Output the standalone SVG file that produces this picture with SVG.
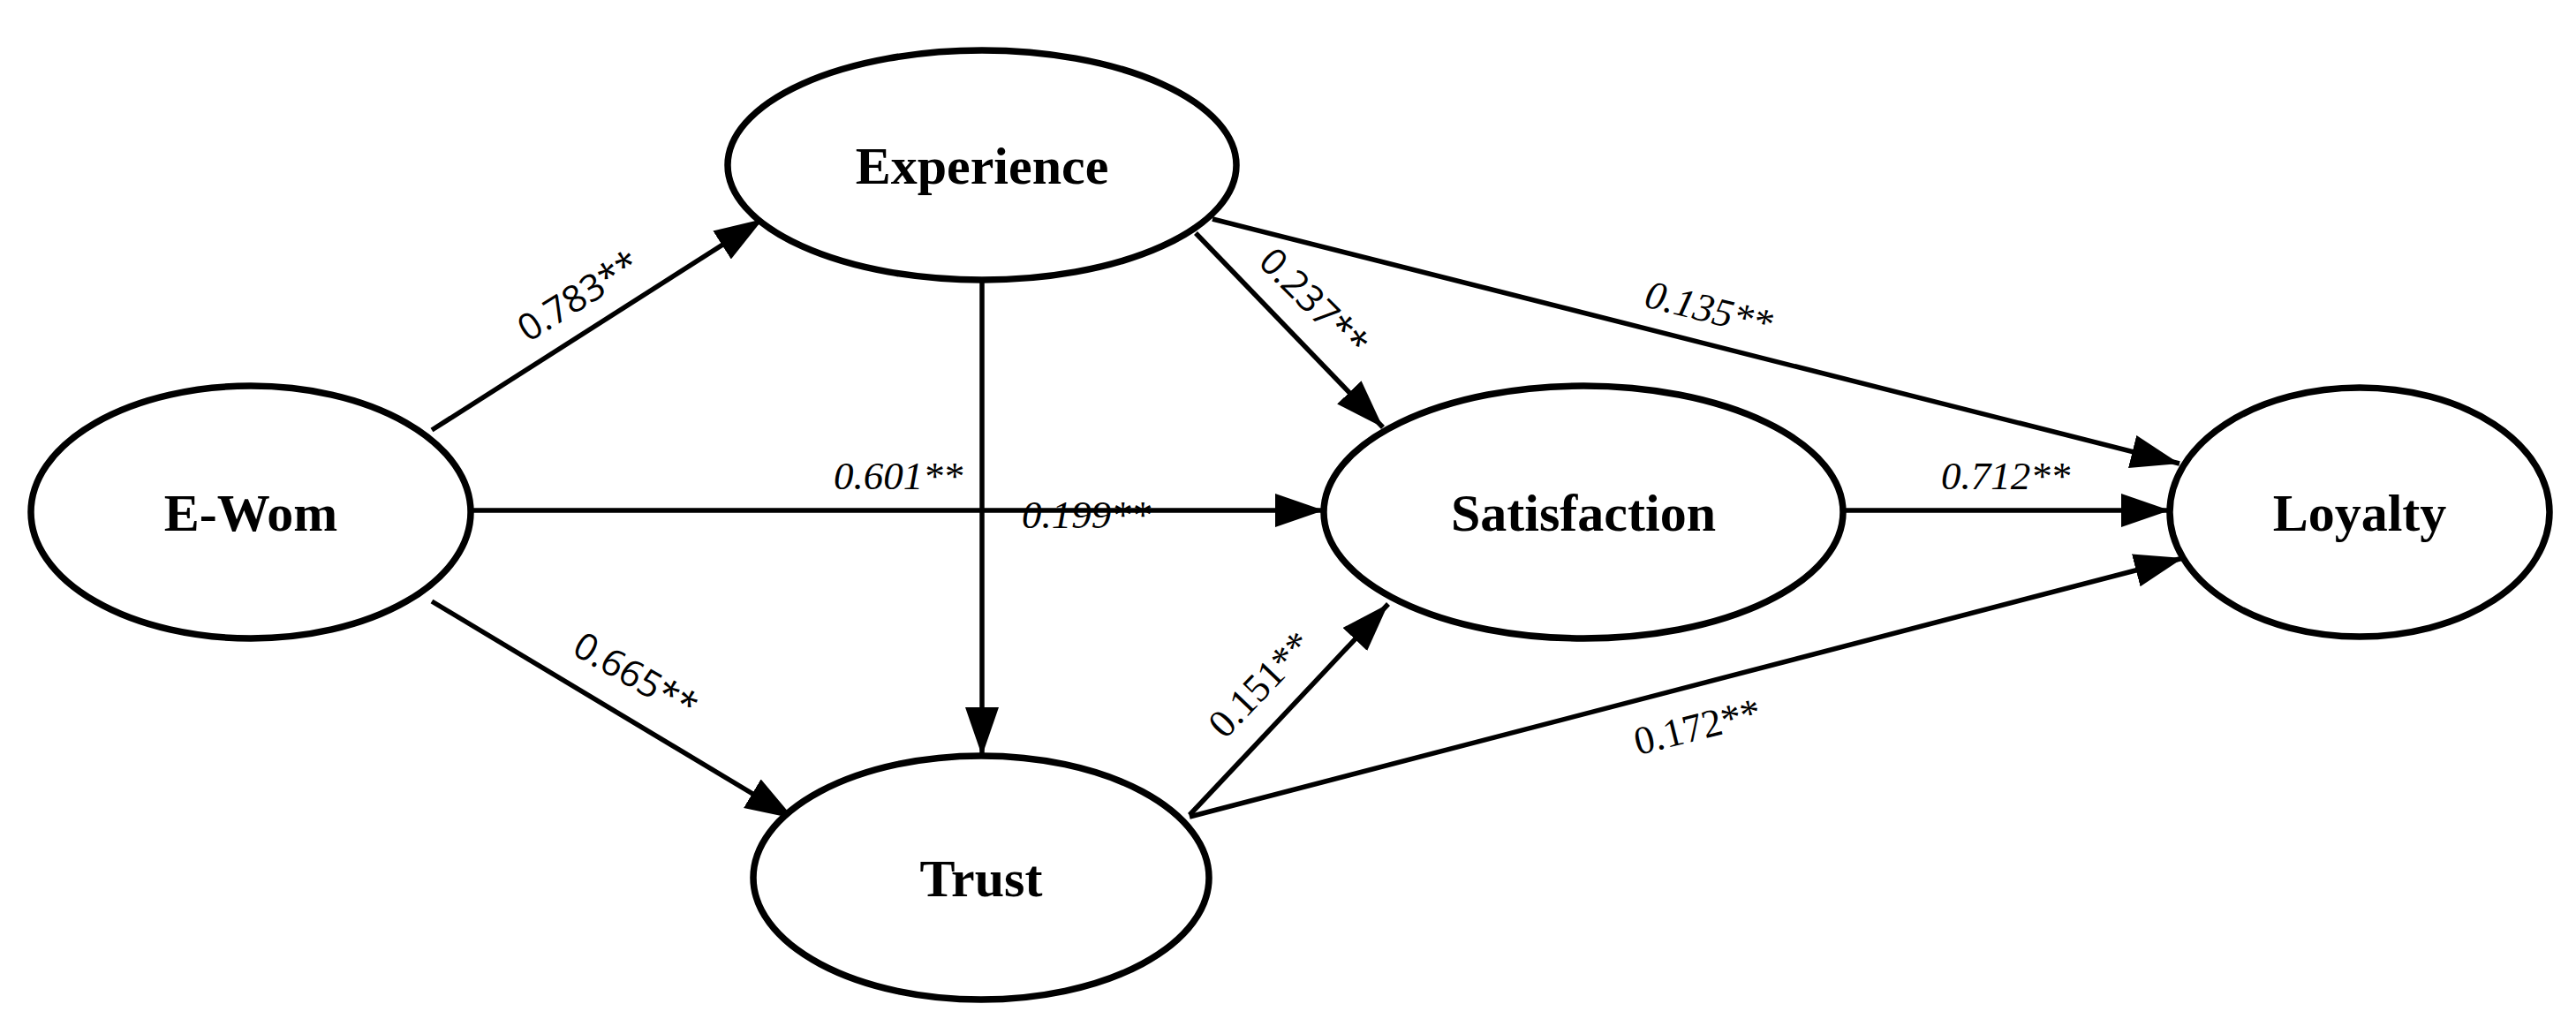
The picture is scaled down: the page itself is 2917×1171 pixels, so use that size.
<svg xmlns="http://www.w3.org/2000/svg" width="2917" height="1171" viewBox="0 0 2917 1171">
<style>
.node{fill:#fff;stroke:#000;stroke-width:7.5}
.nt{font-family:"Liberation Serif","Times New Roman",serif;font-weight:bold;font-size:60px;text-anchor:middle;fill:#000}
.edge{stroke:#000;stroke-width:5.5;fill:none;marker-end:url(#ah)}
.ls{font-family:"Open Sans","Liberation Sans",sans-serif;font-size:42px;text-anchor:middle;fill:#000}
.li{font-family:"Liberation Serif","Times New Roman",serif;font-style:italic;font-size:45px;text-anchor:middle;fill:#000}
.lr{font-family:"Liberation Serif","Times New Roman",serif;font-size:45px;text-anchor:middle;fill:#000}
</style>
<defs>
<marker id="ah" markerUnits="userSpaceOnUse" markerWidth="56" markerHeight="40" refX="55" refY="19" orient="auto">
<path d="M0,0 L55,19 L0,38 z" fill="#000"/>
</marker>
</defs>
<rect width="2917" height="1171" fill="#fff"/>
<g id="connectors">
<line class="edge" x1="489" y1="487" x2="864" y2="248"/>
<line class="edge" x1="533" y1="578" x2="1499" y2="578"/>
<line class="edge" x1="1112" y1="317" x2="1112" y2="856"/>
<line class="edge" x1="489" y1="681" x2="899" y2="927"/>
<line class="edge" x1="1354" y1="264" x2="1566" y2="484"/>
<line class="edge" x1="1373" y1="248" x2="2468" y2="525"/>
<line class="edge" x1="2087" y1="578" x2="2457" y2="578"/>
<line class="edge" x1="1347" y1="923" x2="1572" y2="684"/>
<line class="edge" x1="1347" y1="925" x2="2472" y2="632"/>
<text class="ls" transform="translate(655,335) rotate(-32)" y="15">0.783**</text>
<text class="ls" transform="translate(720,765) rotate(30)" y="15">0.665**</text>
<text class="ls" transform="translate(1488,342) rotate(45)" y="15">0.237**</text>
<text class="li" transform="translate(1935,350) rotate(14)" y="15">0.135**</text>
<text class="lr" transform="translate(1427,775) rotate(-46)" y="15">0.151**</text>
<text class="lr" transform="translate(1922,823) rotate(-14)" y="15">0.172**</text>
<text class="li" x="1017" y="554">0.601**</text>
<text class="li" x="1230" y="598">0.199**</text>
<text class="li" x="2271" y="554">0.712**</text>
</g>
<g id="n-ewom"><ellipse class="node" cx="284" cy="580" rx="249" ry="143"/><text class="nt" x="284" y="601">E-Wom</text></g>
<g id="n-experience"><ellipse class="node" cx="1112" cy="187" rx="288" ry="130"/><text class="nt" x="1112" y="208">Experience</text></g>
<g id="n-satisfaction"><ellipse class="node" cx="1793" cy="580" rx="294" ry="143"/><text class="nt" x="1793" y="601">Satisfaction</text></g>
<g id="n-trust"><ellipse class="node" cx="1111" cy="994" rx="258" ry="138"/><text class="nt" x="1111" y="1015">Trust</text></g>
<g id="n-loyalty"><ellipse class="node" cx="2672" cy="580" rx="215" ry="141"/><text class="nt" x="2672" y="601">Loyalty</text></g>
</svg>
